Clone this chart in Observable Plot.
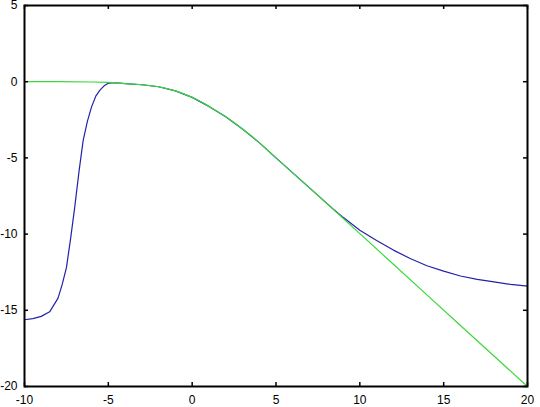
<!DOCTYPE html>
<html>
<head>
<meta charset="utf-8">
<script src="https://cdn.jsdelivr.net/npm/d3@7"></script>
<script src="https://cdn.jsdelivr.net/npm/@observablehq/plot@0.6"></script>
<style>
  html, body { margin: 0; padding: 0; background: #fff; }
  #chart svg { display: block; }
</style>
</head>
<body>
<div id="chart"></div>
<script>
// Tick values
const xTicks = [-10, -5, 0, 5, 10, 15, 20];
const yTicks = [-20, -15, -10, -5, 0, 5];

// Green series
const greenX = [-10, -8, -6, -5, -4.5, -4, -3.5, -3, -2.5, -2, -1.5, -1, -0.5, 0, 0.5, 1, 1.5, 2, 2.5, 3, 3.5, 4, 4.5, 5, 6, 7, 8, 10, 12, 14, 16, 18, 20];
const greenY = [0, 0, -0.02, -0.05, -0.08, -0.12, -0.16, -0.2, -0.26, -0.33, -0.45, -0.6, -0.8, -1.03, -1.3, -1.62, -1.95, -2.3, -2.68, -3.1, -3.53, -4.0, -4.5, -5.0, -5.98, -6.97, -7.96, -9.97, -11.98, -13.99, -16.0, -18.0, -20.0];

// Blue series
const blueX = [-10, -9.5, -9, -8.5, -8, -7.75, -7.5, -7.25, -7, -6.75, -6.5, -6.25, -6, -5.75, -5.5, -5.25, -5, -4.5, -4, -3, -2, -1, 0, 1, 2, 3, 4, 5, 6, 7, 8, 8.5, 9, 10, 11, 12, 13, 14, 15, 16, 17, 18, 19, 20];
const blueY = [-15.62, -15.55, -15.4, -15.1, -14.2, -13.3, -12.2, -10.3, -8.2, -5.9, -3.85, -2.6, -1.65, -0.95, -0.55, -0.27, -0.1, -0.07, -0.12, -0.2, -0.33, -0.6, -1.03, -1.62, -2.3, -3.1, -4.0, -5.0, -5.98, -6.97, -7.95, -8.44, -8.9, -9.75, -10.42, -11.05, -11.6, -12.08, -12.43, -12.75, -12.97, -13.14, -13.3, -13.42];

const green = greenX.map((x, i) => ({x, y: greenY[i]}));
const blue = blueX.map((x, i) => ({x, y: blueY[i]}));

const W = 540, H = 407, mL = 24, mR = 13, mT = 5, mB = 21;
const innerW = W - mL - mR, innerH = H - mT - mB, tk = 4;
const fmt = d => String(d);

const chart = Plot.plot({
  width: W, height: H,
  marginLeft: mL, marginRight: mR, marginTop: mT, marginBottom: mB,
  style: {fontFamily: "'Liberation Sans', Arial, sans-serif", fontSize: "12px", color: "#000", background: "#fff"},
  x: {domain: [-10, 20], label: null},
  y: {domain: [-20, 5], label: null},
  marks: [
    Plot.line(blue, {x: "x", y: "y", stroke: "#2222aa", strokeWidth: 1.2}),
    Plot.line(green, {x: "x", y: "y", stroke: "#3ad83a", strokeWidth: 1.2}),
    // inward ticks on all four sides
    Plot.ruleX(xTicks, {x: d => d, insetTop: innerH - tk, stroke: "#000", strokeWidth: 1.5}),
    Plot.ruleX(xTicks, {x: d => d, insetBottom: innerH - tk, stroke: "#000", strokeWidth: 1.5}),
    Plot.ruleY(yTicks, {y: d => d, insetRight: innerW - tk, stroke: "#000", strokeWidth: 1.5}),
    Plot.ruleY(yTicks, {y: d => d, insetLeft: innerW - tk, stroke: "#000", strokeWidth: 1.5}),
    Plot.axisX(xTicks, {anchor: "bottom", tickSize: 0, tickPadding: 9, tickFormat: fmt, fill: "#000", label: null}),
    Plot.axisY(yTicks, {anchor: "left", tickSize: 0, tickPadding: 7, tickFormat: fmt, fill: "#000", label: null}),
    Plot.frame({stroke: "#000", strokeWidth: 2})
  ]
});
document.getElementById("chart").appendChild(chart);
</script>
</body>
</html>
